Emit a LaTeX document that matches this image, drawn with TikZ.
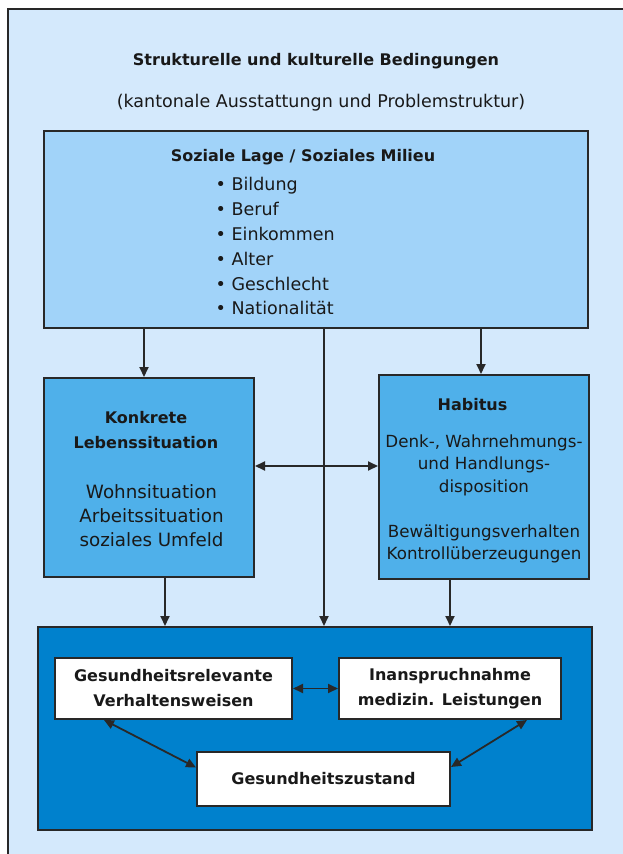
\documentclass[tikz,border=0pt]{standalone}
\usepackage{fontspec}
\setmainfont{DejaVu Sans}
\usetikzlibrary{arrows.meta}
\usetikzlibrary{calc}
\definecolor{umfeldblau}{RGB}{212,233,252}
\definecolor{lageblau}{RGB}{161,211,249}
\definecolor{kastenblau}{RGB}{79,176,234}
\definecolor{gesundblau}{RGB}{0,129,205}
\definecolor{rahmen}{RGB}{40,40,40}
\tikzset{
    % Solid triangular tips, as in the figure
    >={Triangle[length=10pt,width=9pt]},
%
    % The big frame around everything
    frame/.style={draw=rahmen, line width=2.5pt, fill=umfeldblau},
%
    % Plain box with a dark outline, sized by hand
    box/.style={draw=rahmen, line width=2pt, inner sep=0pt},
    lage box/.style={box, fill=lageblau},
    kasten box/.style={box, fill=kastenblau},
    gesund box/.style={box, fill=gesundblau},
    white box/.style={box, fill=white, heading},
%
    % Text styles (the base of a multi-line node is its last line)
    heading/.style={align=center, text=black!90,
        font=\bfseries\fontsize{16}{25}\selectfont},
    body/.style={align=center, text=black!90,
        font=\fontsize{17.5}{23.5}\selectfont},
    konkret text/.style={align=center, text=black!90,
        font=\fontsize{18.3}{24}\selectfont},
    habitus text/.style={align=center, text=black!90,
        font=\fontsize{16.7}{22.5}\selectfont},
    listing/.style={text=black!90, inner sep=0pt,
        font=\fontsize{17.5}{23.5}\selectfont},
%
    % Connectors
    flow arrow/.style={->, draw=rahmen, line width=1.8pt},
    both arrow/.style={<->, draw=rahmen, line width=1.8pt}}

\begin{document}
\begin{tikzpicture}[x=1pt, y=-1pt]

\useasboundingbox (0,0) rectangle (623,854);

% Frame, it runs off the page at the right and at the bottom
\draw [frame] (8,9) rectangle (660,880);

\node [heading, anchor=base] (titel) at (316,65)
    {Strukturelle und kulturelle Bedingungen};
\node [body, anchor=base] (untertitel) at (321,107)
    {(kantonale Ausstattungn und Problemstruktur)};

% Soziale Lage
\node [lage box, minimum width=544pt, minimum height=197pt] (lage)
    at (316,229.5) {};
\node [heading, anchor=base] (lage titel) at (303,161)
    {Soziale Lage / Soziales Milieu};
\foreach \merkmal [count=\i] in
    {Bildung, Beruf, Einkommen, Alter, Geschlecht, Nationalität}
    \node [listing, anchor=base west] (merkmal \i)
        at (215.5,166+24.8*\i) {\textbullet\ \merkmal};

% Lebenssituation and Habitus
\node [kasten box, minimum width=210pt, minimum height=199pt] (konkret)
    at (149,477.5) {};
\node [heading, anchor=base] (konkret titel) at (146,448)
    {Konkrete\\Lebenssituation};
\node [konkret text, anchor=base] (konkret liste) at (151.5,546)
    {Wohnsituation\\Arbeitssituation\\soziales Umfeld};

\node [kasten box, minimum width=210pt, minimum height=204pt] (habitus)
    at (484,477) {};
\node [heading, anchor=base] (habitus titel) at (472.5,410) {Habitus};
\node [habitus text, anchor=base] (habitus dispo) at (484,492)
    {Denk-, Wahrnehmungs-\\und Handlungs-\\disposition};
\node [habitus text, anchor=base] (habitus strategie) at (484,559.5)
    {Bewältigungsverhalten\\Kontrollüberzeugungen};

% Gesundheit
\node [gesund box, minimum width=554pt, minimum height=203pt] (gesundheit)
    at (315,728.5) {};
\node [white box, minimum width=237pt, minimum height=61pt] (verhalten)
    at (173.5,688.5) {Gesundheitsrelevante\\Verhaltensweisen};
\node [white box, minimum width=222pt, minimum height=61pt] (inanspruch)
    at (450,688.5) {Inanspruchnahme\\medizin. Leistungen};
\node [white box, minimum width=253pt, minimum height=54pt] (zustand)
    at (323.5,779) {Gesundheitszustand};

% columns and rows of the connectors
\coordinate (spalte a) at (144,0);
\coordinate (spalte b) at (324,0);
\coordinate (spalte c) at (481,0);
\coordinate (spalte d) at (165,0);
\coordinate (spalte e) at (450,0);
\coordinate (zeile a) at (0,466);

\draw [flow arrow] (lage.south -| spalte a) -- (konkret.north -| spalte a);
\draw [flow arrow] (lage.south -| spalte c) -- (habitus.north -| spalte c);
\draw [both arrow] (konkret.east |- zeile a) -- (habitus.west |- zeile a);
\draw [flow arrow] (lage.south -| spalte b) -- (gesundheit.north -| spalte b);
\draw [flow arrow] (konkret.south -| spalte d) -- (gesundheit.north -| spalte d);
\draw [flow arrow] (habitus.south -| spalte e) -- (gesundheit.north -| spalte e);

\draw [both arrow] (verhalten) -- (inanspruch);
\draw [both arrow] ([xshift=-69.5pt]verhalten.south)
    -- ([yshift=11.5pt]zustand.west);
\draw [both arrow] ([xshift=77pt]inanspruch.south)
    -- ([yshift=12pt]zustand.east);

\end{tikzpicture}
\end{document}
